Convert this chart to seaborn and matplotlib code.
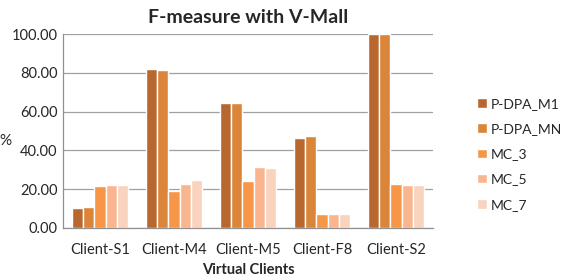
import numpy as np
import pandas as pd
import matplotlib
matplotlib.use("Agg")
import matplotlib.pyplot as plt
import seaborn as sns

clients = ["Client-S1", "Client-M4", "Client-M5", "Client-F8", "Client-S2"]
methods = ["P-DPA_M1", "P-DPA_MN", "MC_3", "MC_5", "MC_7"]
p_dpa_m1 = [10.2, 82.0, 64.2, 46.4, 100.0]
p_dpa_mn = [11.0, 81.2, 64.6, 47.6, 100.0]
mc_3 = [21.8, 18.8, 24.2, 7.4, 22.5]
mc_5 = [22.2, 22.5, 31.6, 7.4, 22.0]
mc_7 = [22.2, 24.8, 30.8, 7.0, 22.0]
colors = ["#B8682F", "#DA8539", "#F79646", "#F8B58E", "#FAD3BE"]

series = [p_dpa_m1, p_dpa_mn, mc_3, mc_5, mc_7]
df = pd.DataFrame([
    {"client": c, "method": m, "value": v}
    for m, vals in zip(methods, series)
    for c, v in zip(clients, vals)
])

sns.set_style("white")
plt.rcParams["font.family"] = ["Lato", "DejaVu Sans"]

fig = plt.figure(figsize=(5.72, 2.79), dpi=100)
ax = fig.add_axes([0.110, 0.183, 0.647, 0.695])

sns.barplot(data=df, x="client", y="value", hue="method", hue_order=methods,
            palette=colors, width=0.76, saturation=1, ax=ax, legend=True)

ax.set_ylim(0, 100)
ax.set_xlim(-0.5, len(clients) - 0.5)
ax.set_yticks(np.arange(0, 101, 20))
ax.set_yticklabels([f"{v:.2f}" for v in np.arange(0, 101, 20)], fontsize=10.5)
ax.yaxis.grid(True, color="#A0A0A0", linewidth=0.9)
ax.set_axisbelow(True)
ax.tick_params(axis="x", length=0, labelsize=10.5, pad=11)
ax.tick_params(axis="y", length=0, pad=4)
ax.set_xticks(np.arange(-0.5, len(clients)), minor=True)
ax.tick_params(axis="x", which="minor", length=5, color="#909090", width=0.9)

for s in ["top", "right"]:
    ax.spines[s].set_visible(False)
for s in ["left", "bottom"]:
    ax.spines[s].set_color("#909090")
    ax.spines[s].set_linewidth(0.9)

ax.set_xlabel("Virtual Clients", fontsize=10.5, fontweight="bold", labelpad=4)
ax.set_ylabel("%", fontsize=11, rotation=0, labelpad=0)
ax.yaxis.set_label_coords(-0.155, 0.41)
ax.set_title("F-measure with V-Mall", fontsize=14, fontweight="bold", pad=8)

ax.legend(loc="center left", bbox_to_anchor=(1.085, 0.38), frameon=False,
          fontsize=10, handlelength=0.7, handleheight=0.7, handletextpad=0.3,
          labelspacing=0.95)

fig.savefig("out.png", dpi=100)
